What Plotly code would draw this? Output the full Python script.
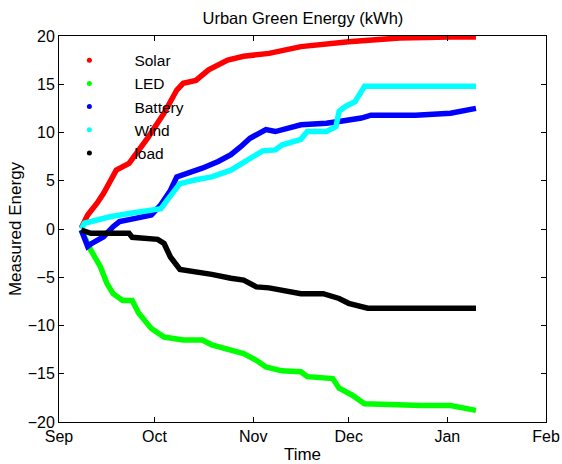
import plotly.graph_objects as go

# Cumulative measured energy (kWh), Sep 2013 - Jan 2014
solar_dates = ["2013-09-08", "2013-09-10", "2013-09-13", "2013-09-15", "2013-09-19",
               "2013-09-23", "2013-09-29", "2013-10-04", "2013-10-08", "2013-10-10",
               "2013-10-14", "2013-10-18", "2013-10-24", "2013-10-29", "2013-11-06",
               "2013-11-16", "2013-12-01", "2013-12-17", "2014-01-02", "2014-01-10"]
solar_vals = [0.1, 1.45, 2.7, 3.7, 6.1, 6.8, 9.5, 12.0, 14.4, 15.1,
              15.4, 16.5, 17.5, 17.9, 18.2, 18.9, 19.4, 19.8, 19.9, 19.9]

led_dates = ["2013-09-08", "2013-09-11", "2013-09-14", "2013-09-16", "2013-09-18",
             "2013-09-21", "2013-09-24", "2013-09-26", "2013-09-30", "2013-10-04",
             "2013-10-10", "2013-10-16", "2013-10-19", "2013-10-25", "2013-10-29",
             "2013-11-02", "2013-11-05", "2013-11-10", "2013-11-16", "2013-11-18",
             "2013-11-26", "2013-11-28", "2013-12-02", "2013-12-06", "2013-12-12",
             "2013-12-24", "2014-01-02", "2014-01-10"]
led_vals = [-0.1, -2.2, -3.9, -5.6, -6.7, -7.4, -7.4, -8.7, -10.3, -11.2,
            -11.5, -11.5, -12.0, -12.5, -12.9, -13.6, -14.3, -14.7, -14.8, -15.3,
            -15.5, -16.5, -17.2, -18.1, -18.2, -18.3, -18.3, -18.8]

battery_dates = ["2013-09-08", "2013-09-09", "2013-09-10", "2013-09-11", "2013-09-13",
                 "2013-09-15", "2013-09-18", "2013-09-20", "2013-09-25", "2013-09-30",
                 "2013-10-03", "2013-10-06", "2013-10-08", "2013-10-12", "2013-10-16",
                 "2013-10-21", "2013-10-25", "2013-10-28", "2013-10-31", "2013-11-05",
                 "2013-11-08", "2013-11-16", "2013-11-24", "2013-11-29", "2013-12-05",
                 "2013-12-08", "2013-12-22", "2014-01-02", "2014-01-10"]
battery_vals = [-0.1, -1.1, -1.8, -1.55, -1.1, -0.8, 0.24, 0.76, 1.1, 1.45,
                2.5, 4.0, 5.4, 5.8, 6.3, 7.0, 7.7, 8.5, 9.4, 10.3,
                10.1, 10.8, 10.95, 11.2, 11.5, 11.8, 11.8, 12.0, 12.5]

wind_dates = ["2013-09-08", "2013-09-09", "2013-09-13", "2013-09-17", "2013-09-23",
              "2013-09-30", "2013-10-03", "2013-10-05", "2013-10-09", "2013-10-14",
              "2013-10-19", "2013-10-25", "2013-10-31", "2013-11-04", "2013-11-08",
              "2013-11-10", "2013-11-16", "2013-11-18", "2013-11-24", "2013-11-27",
              "2013-11-28", "2013-11-30", "2013-12-03", "2013-12-05", "2013-12-06",
              "2014-01-10"]
wind_vals = [0.0, 0.6, 0.93, 1.27, 1.6, 1.97, 2.1, 3.0, 4.7, 5.1,
             5.4, 6.1, 7.3, 8.1, 8.2, 8.7, 9.3, 10.1, 10.1, 10.6,
             12.2, 12.7, 13.2, 14.4, 14.8, 14.8]

load_dates = ["2013-09-08", "2013-09-11", "2013-09-17", "2013-09-23", "2013-09-24",
              "2013-10-02", "2013-10-04", "2013-10-06", "2013-10-09", "2013-10-14",
              "2013-10-19", "2013-10-25", "2013-10-29", "2013-11-02", "2013-11-06",
              "2013-11-16", "2013-11-23", "2013-11-28", "2013-12-01", "2013-12-07",
              "2013-12-17", "2014-01-10"]
load_vals = [-0.1, -0.45, -0.45, -0.45, -0.86, -1.07, -1.5, -2.9, -4.2, -4.4,
             -4.7, -5.1, -5.3, -6.0, -6.1, -6.7, -6.7, -7.2, -7.7, -8.2,
             -8.2, -8.2]

month_ticks = ["2013-09-01", "2013-10-01", "2013-11-01", "2013-12-01",
               "2014-01-01", "2014-02-01"]
month_labels = ["Sep", "Oct", "Nov", "Dec", "Jan", "Feb"]
y_ticks = [-20, -15, -10, -5, 0, 5, 10, 15, 20]

series = [
    ("Solar", solar_dates, solar_vals, "#ff0000"),
    ("LED", led_dates, led_vals, "#00ff00"),
    ("Battery", battery_dates, battery_vals, "#0000ff"),
    ("Wind", wind_dates, wind_vals, "#00ffff"),
    ("load", load_dates, load_vals, "#000000"),
]

fig = go.Figure()
for name, xs, ys, color in series:
    fig.add_trace(go.Scatter(
        x=xs, y=ys, mode="lines", name=name, legendgroup=name,
        showlegend=False, line=dict(color=color, width=5.5),
    ))
# dot-style legend keys
for name, xs, ys, color in series:
    fig.add_trace(go.Scatter(
        x=[None], y=[None], mode="markers", name=name, legendgroup=name,
        marker=dict(color=color, size=5),
    ))

family = "Liberation Sans, Arial, sans-serif"
axis_font = dict(family=family, size=16, color="#000000")
label_font = dict(family=family, size=17, color="#000000")

fig.update_layout(
    width=562, height=464,
    margin=dict(l=59, r=16, t=36, b=42),
    paper_bgcolor="white", plot_bgcolor="white",
    font=axis_font,
    title=dict(text="Urban Green Energy (kWh)", x=0.539, xanchor="center",
               y=1 - 18 / 464, yanchor="middle", font=dict(size=16.5)),
    showlegend=True,
    legend=dict(x=-0.03, y=0.98, xanchor="left", yanchor="top",
                bgcolor="rgba(0,0,0,0)", itemwidth=80,
                font=dict(size=15.5), tracegroupgap=0),
    xaxis=dict(
        type="date", range=["2013-09-01", "2014-02-01"],
        tickvals=month_ticks, ticktext=month_labels,
        ticks="inside", ticklen=5, tickcolor="black",
        showline=True, linecolor="black", linewidth=1, mirror="ticks",
        showgrid=False, zeroline=False, automargin=False,
        title=dict(text="Time", standoff=3, font=label_font),
    ),
    yaxis=dict(
        range=[-20, 20], tickvals=y_ticks,
        ticks="inside", ticklen=5, tickcolor="black",
        showline=True, linecolor="black", linewidth=1, mirror="ticks",
        showgrid=False, zeroline=False, automargin=False,
        title=dict(text="Measured Energy", standoff=1, font=label_font),
    ),
)

fig.write_html("out.html")
